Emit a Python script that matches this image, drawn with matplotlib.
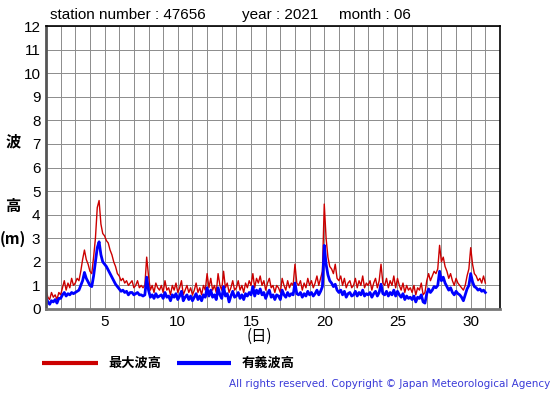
import matplotlib
matplotlib.use("Agg")
import matplotlib.pyplot as plt
import numpy as np

W, H = 555, 395

# 3-hourly values, day 1 00h .. day 31 00h
hmax = [
    0.8, 0.5, 0.4, 0.7, 0.5, 0.6, 0.4, 0.7,
    0.6, 0.9, 1.2, 0.8, 1.1, 0.9, 1.3, 1.0,
    1.1, 1.3, 1.2, 1.6, 2.1, 2.5, 2.1, 1.9,
    1.6, 1.5, 2.2, 3.0, 4.3, 4.6, 3.6, 3.2,
    3.1, 2.9, 2.8, 2.5, 2.3, 2.0, 1.8, 1.5,
    1.4, 1.2, 1.3, 1.1, 1.2, 1.0, 1.1, 1.2,
    0.9, 1.0, 1.2, 0.9, 1.0, 0.9, 1.0, 2.2,
    1.4, 0.8, 1.0, 0.7, 1.1, 0.9, 0.8, 1.0,
    0.7, 1.2, 0.8, 0.9, 0.6, 1.0, 0.8, 1.1,
    0.7, 0.9, 1.2, 0.6, 0.8, 1.0, 0.7, 0.9,
    0.6, 0.8, 1.1, 0.7, 0.9, 0.6, 1.0, 0.8,
    1.5, 0.9, 1.3, 0.8, 1.0, 0.7, 1.5, 1.0,
    0.8, 1.6, 0.9, 1.1, 0.7, 0.9, 1.2, 0.8,
    0.9, 1.2, 0.8, 1.0, 0.7, 1.1, 0.9, 1.2,
    1.0, 1.5, 0.9, 1.3, 1.1, 1.4, 1.0, 1.2,
    0.8, 1.1, 1.3, 0.9, 1.0, 0.7, 1.0, 0.9,
    0.7, 1.3, 1.0, 0.8, 1.2, 0.9, 1.1, 1.0,
    1.9, 1.1, 1.0, 1.2, 0.8, 1.1, 0.9, 1.3,
    1.0, 1.2, 0.9, 1.1, 1.4, 1.0, 1.3, 1.6,
    4.45, 3.0, 2.2, 1.8, 1.7, 1.5, 1.9, 1.3,
    1.2, 1.4, 1.0, 1.3, 0.9, 1.1, 1.2, 0.9,
    1.0, 1.3, 0.9, 1.2, 1.0, 1.4, 0.9, 1.1,
    1.0, 1.2, 0.8, 1.1, 1.3, 0.9, 1.2, 1.9,
    1.1, 1.0, 1.3, 0.9, 1.2, 1.0, 1.4, 0.9,
    1.3, 1.0, 0.8, 1.1, 0.7, 1.0, 0.8, 0.9,
    0.7, 1.0, 0.6, 0.9, 0.8, 1.1, 0.6, 0.7,
    1.2, 1.5, 1.2, 1.4, 1.6, 1.5, 1.7, 2.7,
    2.0, 2.2, 1.8, 1.6, 1.3, 1.5, 1.2, 1.0,
    1.3, 1.1, 1.0, 0.9, 0.8, 1.0, 1.4, 1.7,
    2.6, 1.9, 1.5, 1.4, 1.2, 1.3, 1.1, 1.4,
    1.1,
]

hsig = [
    0.5, 0.3, 0.2, 0.35, 0.3, 0.4, 0.25, 0.45,
    0.45, 0.6, 0.7, 0.55, 0.65, 0.6, 0.7, 0.65,
    0.7, 0.75, 0.8, 1.0, 1.2, 1.55, 1.3, 1.15,
    1.0, 0.95, 1.4, 2.0, 2.6, 2.85, 2.3, 2.0,
    1.9, 1.8, 1.65, 1.5, 1.35, 1.2, 1.05, 0.95,
    0.85, 0.75, 0.8, 0.7, 0.75, 0.6, 0.7, 0.7,
    0.6, 0.65, 0.7, 0.6, 0.6, 0.55, 0.6, 1.35,
    0.8, 0.5, 0.6, 0.45, 0.65, 0.5, 0.55, 0.6,
    0.45, 0.7, 0.5, 0.55, 0.35, 0.6, 0.5, 0.65,
    0.4, 0.55, 0.75, 0.35, 0.5, 0.6, 0.4, 0.55,
    0.35, 0.5, 0.65, 0.4, 0.55, 0.35, 0.6, 0.5,
    0.9, 0.55, 0.8, 0.5, 0.6, 0.4, 0.9, 0.6,
    0.45, 0.95, 0.55, 0.65, 0.3, 0.55, 0.75, 0.5,
    0.55, 0.7, 0.45, 0.6, 0.4, 0.65, 0.55, 0.7,
    0.6, 0.95, 0.55, 0.8, 0.65, 0.85, 0.6, 0.7,
    0.45, 0.65, 0.8, 0.5, 0.6, 0.4, 0.6, 0.55,
    0.4, 0.8, 0.6, 0.5, 0.7, 0.55, 0.65, 0.6,
    1.1, 0.65, 0.6, 0.7, 0.5, 0.65, 0.55, 0.75,
    0.6, 0.7, 0.55, 0.65, 0.8, 0.6, 0.75, 0.95,
    2.7, 1.9, 1.45, 1.2, 1.1, 0.95, 1.05, 0.8,
    0.7, 0.8, 0.6, 0.75, 0.5, 0.65, 0.7, 0.55,
    0.6, 0.75, 0.55, 0.7, 0.6, 0.8, 0.55, 0.65,
    0.6, 0.7, 0.5, 0.65, 0.75, 0.55, 0.7, 1.05,
    0.65, 0.6, 0.75, 0.55, 0.7, 0.6, 0.8, 0.55,
    0.75, 0.6, 0.5, 0.65, 0.4, 0.55, 0.45, 0.5,
    0.4, 0.55, 0.3, 0.5, 0.45, 0.6, 0.3, 0.25,
    0.65, 0.85, 0.7, 0.8, 0.95, 0.9, 1.0, 1.6,
    1.2, 1.35, 1.1, 0.95, 0.8, 0.9, 0.7, 0.6,
    0.75, 0.65, 0.6, 0.5, 0.35, 0.6, 0.85, 1.0,
    1.5, 1.15, 0.95, 0.9, 0.8, 0.85, 0.75, 0.8,
    0.7,
]

days = 1 + np.arange(len(hmax)) / 8.0
xticks = [5, 10, 15, 20, 25, 30]
yticks = list(range(0, 13))

jp = ['Noto Sans CJK JP', 'DejaVu Sans']
lat = ['Liberation Sans', 'DejaVu Sans']

fig = plt.figure(figsize=(W / 100, H / 100), dpi=100)
ax = fig.add_axes([46 / W, 1 - 309 / H, 454 / W, 283 / H])

ax.plot(days, hmax, color='#cc0000', lw=1.0)
ax.plot(days, hsig, color='#0000ff', lw=2.0)

ax.set_xlim(1, 32)
ax.set_ylim(0, 12)
ax.set_xticks(range(1, 33), minor=True)
ax.set_xticks(xticks)
ax.set_yticks(yticks)
ax.grid(True, which='both', color='#8c8c8c', lw=0.7)
ax.tick_params(which='both', length=0, pad=4)
for lab in ax.get_xticklabels() + ax.get_yticklabels():
    lab.set_family(lat)
    lab.set_fontsize(11)
ax.spines['left'].set_linewidth(2)
ax.spines['left'].set_color('#555555')
ax.spines['bottom'].set_linewidth(2)
ax.spines['bottom'].set_color('#777777')
ax.spines['top'].set_linewidth(1.2)
ax.spines['right'].set_linewidth(1.2)

def ftext(x, y, s, **kw):
    fig.text(x / W, 1 - y / H, s, **kw)

ftext(50, 15, 'station number : 47656', family=lat, fontsize=11, va='center')
ftext(242, 15, 'year : 2021', family=lat, fontsize=11, va='center')
ftext(339, 15, 'month : 06', family=lat, fontsize=11, va='center')

ftext(13, 141, '波', family=jp, fontsize=11, weight='bold', ha='center', va='center')
ftext(13, 206, '高', family=jp, fontsize=11, weight='bold', ha='center', va='center')
ftext(13, 239, '(m)', family=jp, fontsize=11, weight='bold', ha='center', va='center')
ftext(259, 336, '(日)', family=jp, fontsize=11, ha='center', va='center')

leg = fig.add_axes([0, 0, 1, 1], facecolor='none')
leg.set_xlim(0, W)
leg.set_ylim(H, 0)
leg.axis('off')
leg.plot([42, 98], [363, 363], color='#cc0000', lw=3, solid_capstyle='butt')
leg.plot([177, 231], [363, 363], color='#0000ff', lw=3, solid_capstyle='butt')
ftext(108, 363, '最大波高', family=jp, fontsize=9.5, weight='bold', va='center')
ftext(242, 363, '有義波高', family=jp, fontsize=9.5, weight='bold', va='center')
ftext(550, 384, 'All rights reserved. Copyright © Japan Meteorological Agency',
      family=['DejaVu Sans'], fontsize=7.5, color='#3a3ad8', ha='right', va='center')

fig.savefig('out.png', dpi=100)
